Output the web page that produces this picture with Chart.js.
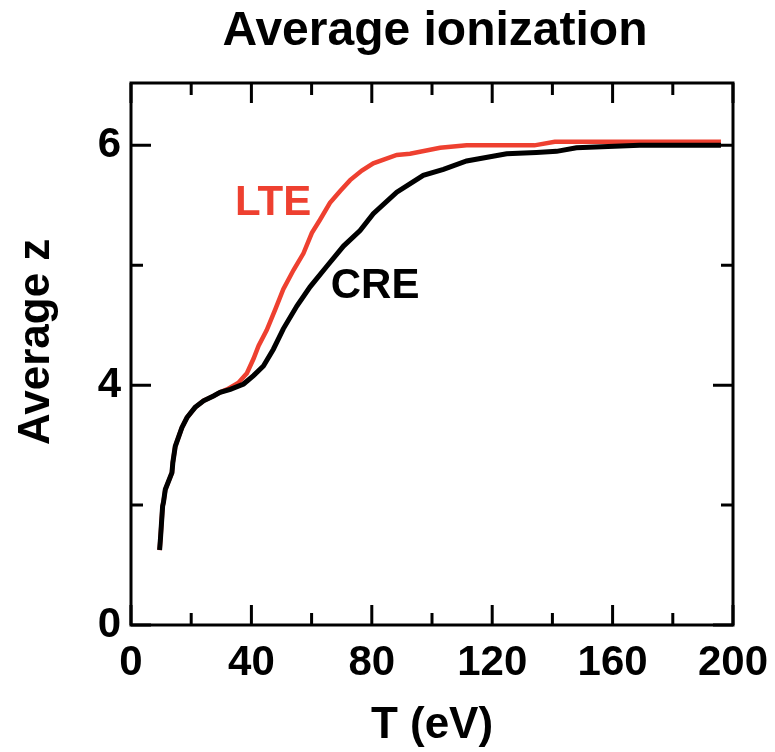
<!DOCTYPE html>
<html>
<head>
<meta charset="utf-8">
<script src="https://cdn.jsdelivr.net/npm/chart.js@4.4.1/dist/chart.umd.min.js"></script>
<style>
  html, body { margin: 0; padding: 0; background: #fff; }
</style>
</head>
<body>
<canvas id="chart" width="775" height="752"></canvas>
<script>
// --- data: T (eV) and average z ---
const creT = [9.5, 9.8, 10.5, 10.8, 11.4, 13.6, 13.9, 14.7, 16.9, 18.6, 21.3, 24.1, 27.4, 29.6, 33, 37.4, 40.7, 44, 47.3, 50.6, 55.1, 59.5, 65, 70.6, 76.1, 80.5, 88.3, 97.1, 103.8, 111.5, 124.8, 134.7, 141.4, 148, 169, 196];
const creZ = [1.25, 1.45, 1.98, 2.05, 2.26, 2.54, 2.71, 2.98, 3.29, 3.46, 3.63, 3.74, 3.82, 3.88, 3.93, 4.01, 4.08, 4.16, 4.30, 4.47, 4.66, 4.82, 4.99, 5.16, 5.29, 5.43, 5.61, 5.75, 5.80, 5.87, 5.93, 5.94, 5.95, 5.98, 6.0, 6.0];

const lteT = [9.5, 9.8, 10.5, 10.8, 11.4, 13.6, 13.9, 14.7, 16.9, 18.6, 21.3, 24.1, 27.4, 29.6, 31.9, 35.7, 38.5, 40.7, 42.4, 45.1, 47.9, 50.6, 54, 57.3, 60.1, 62.8, 66.1, 69.5, 72.8, 76.7, 80.5, 88.3, 92.7, 102.7, 111.5, 134, 140.8, 196];
const lteZ = [1.25, 1.45, 1.98, 2.05, 2.26, 2.54, 2.71, 2.98, 3.29, 3.46, 3.63, 3.74, 3.82, 3.88, 3.93, 4.02, 4.10, 4.22, 4.33, 4.46, 4.63, 4.80, 4.96, 5.10, 5.27, 5.38, 5.52, 5.62, 5.71, 5.79, 5.85, 5.92, 5.93, 5.98, 6.0, 6.0, 6.03, 6.03];

const xLabelTicks = [0, 40, 80, 120, 160, 200];
const xMinorTicks = [20, 60, 100, 140, 180];
const yLabelTicks = [0, 4, 6];
const yMinorTicks = [2, 5];

const RED = "#ee4030";
const FONT = "'Liberation Sans', Arial, Helvetica, sans-serif";

// y axis in the figure: 0..4 takes the same height as 4..6
const yBreak = 4;
const lowerScale = 0.5;

class SplitLinearScale extends Chart.LinearScale {
  toUnit(v) {
    return v <= yBreak ? v * lowerScale : yBreak * lowerScale + (v - yBreak);
  }
  fromUnit(u) {
    const b = yBreak * lowerScale;
    return u <= b ? u / lowerScale : yBreak + (u - b);
  }
  getPixelForValue(value) {
    if (value === null || value === undefined || isNaN(value)) return NaN;
    const u0 = this.toUnit(this.min), u1 = this.toUnit(this.max);
    return this.getPixelForDecimal((this.toUnit(value) - u0) / (u1 - u0));
  }
  getValueForPixel(pixel) {
    const u0 = this.toUnit(this.min), u1 = this.toUnit(this.max);
    return this.fromUnit(u0 + this.getDecimalForPixel(pixel) * (u1 - u0));
  }
}
SplitLinearScale.id = "splitLinear";
SplitLinearScale.defaults = Chart.LinearScale.defaults;
Chart.register(SplitLinearScale);

function toPoints(xs, ys) {
  return xs.map((x, i) => ({ x: x, y: ys[i] }));
}

// frame + inward ticks on all four sides
const frameTicks = {
  id: "frameTicks",
  afterDraw(chart) {
    const { ctx, chartArea: a, scales: { x, y } } = chart;
    const major = 20, minor = 12;
    ctx.save();
    ctx.strokeStyle = "#000";
    ctx.lineWidth = 3;
    ctx.strokeRect(a.left, a.top, a.right - a.left, a.bottom - a.top);

    const xt = xLabelTicks.map(v => [v, major]).concat(xMinorTicks.map(v => [v, minor]));
    xt.forEach(([v, len]) => {
      const px = x.getPixelForValue(v);
      ctx.beginPath();
      ctx.moveTo(px, a.bottom); ctx.lineTo(px, a.bottom - len);
      ctx.moveTo(px, a.top); ctx.lineTo(px, a.top + len);
      ctx.stroke();
    });
    const yt = yLabelTicks.map(v => [v, major]).concat(yMinorTicks.map(v => [v, minor]));
    yt.forEach(([v, len]) => {
      const py = y.getPixelForValue(v);
      ctx.beginPath();
      ctx.moveTo(a.left, py); ctx.lineTo(a.left + len, py);
      ctx.moveTo(a.right, py); ctx.lineTo(a.right - len, py);
      ctx.stroke();
    });
    ctx.restore();
  }
};

// chart title and curve labels
const texts = {
  id: "texts",
  afterDraw(chart) {
    const { ctx, chartArea: a, scales: { x, y } } = chart;
    ctx.save();
    ctx.textAlign = "center";
    ctx.textBaseline = "alphabetic";
    ctx.fillStyle = "#000";
    ctx.font = "bold 48px " + FONT;
    ctx.fillText("Average ionization", (a.left + a.right) / 2 + 3, 45);

    ctx.font = "bold 42px " + FONT;
    ctx.fillStyle = RED;
    ctx.fillText("LTE", x.getPixelForValue(47.2), y.getPixelForValue(5.42));
    ctx.fillStyle = "#000";
    ctx.fillText("CRE", x.getPixelForValue(81.1), y.getPixelForValue(4.73));
    ctx.restore();
  }
};

const tickFont = { family: FONT, size: 42, weight: "bold" };
const titleFont = { family: FONT, size: 44, weight: "bold" };

new Chart(document.getElementById("chart"), {
  type: "line",
  data: {
    datasets: [
      {
        label: "CRE",
        data: toPoints(creT, creZ),
        borderColor: "#000",
        borderWidth: 5,
        pointRadius: 0,
        tension: 0
      },
      {
        label: "LTE",
        data: toPoints(lteT, lteZ),
        borderColor: RED,
        borderWidth: 4.5,
        pointRadius: 0,
        tension: 0
      }
    ]
  },
  options: {
    responsive: false,
    animation: false,
    devicePixelRatio: 1,
    layout: { padding: { top: 83, right: 42, bottom: 0, left: 0 } },
    plugins: {
      legend: { display: false },
      tooltip: { enabled: false }
    },
    scales: {
      x: {
        type: "linear",
        min: 0,
        max: 200,
        afterBuildTicks: s => { s.ticks = xLabelTicks.map(v => ({ value: v })); },
        afterFit: s => { s.height = 127; s.paddingRight = 0; },
        ticks: { color: "#000", font: tickFont, padding: 13, maxRotation: 0, autoSkip: false },
        grid: { display: false, drawTicks: false },
        border: { display: false },
        title: {
          display: true,
          text: "T (eV)",
          color: "#000",
          font: titleFont,
          padding: { top: 0, bottom: 0 }
        }
      },
      y: {
        type: "splitLinear",
        min: 0,
        max: 6.52,
        afterBuildTicks: s => { s.ticks = yLabelTicks.map(v => ({ value: v })); },
        afterFit: s => { s.width = 131; },
        ticks: { color: "#000", font: tickFont, padding: 10 },
        grid: { display: false, drawTicks: false },
        border: { display: false },
        title: {
          display: true,
          // leading spaces nudge the rotated title up a little, as in the figure
          text: "  Average z",
          color: "#000",
          font: titleFont,
          padding: { top: 10, bottom: 0 }
        }
      }
    }
  },
  plugins: [frameTicks, texts]
});
</script>
</body>
</html>
